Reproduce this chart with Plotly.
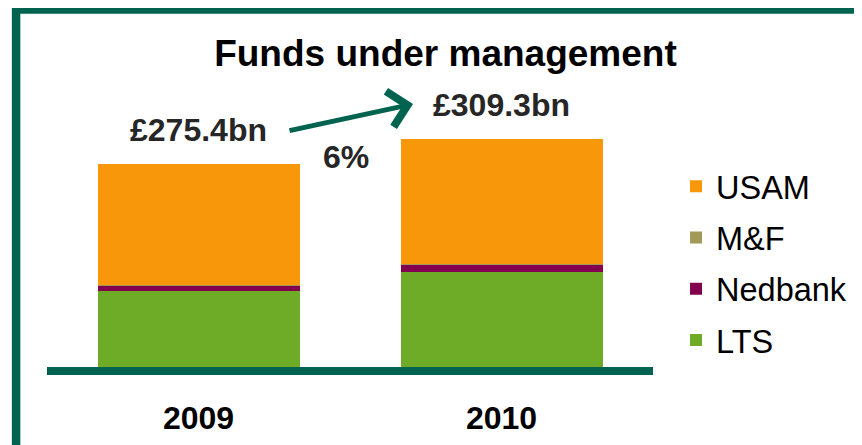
import plotly.graph_objects as go

years = ["2009", "2010"]
lts = [103.0, 129.5]
nedbank = [8.0, 10.0]
mf = [0.4, 0.5]
usam = [164.0, 169.3]
totals = [275.4, 309.3]
total_labels = ["£275.4bn", "£309.3bn"]
growth_label = "6%"

dark_green = "#00634f"
font_family = "Liberation Sans, Arial, sans-serif"

fig = go.Figure()
series = [
    ("LTS", lts, "#6eab26", 4),
    ("Nedbank", nedbank, "#82004e", 3),
    ("M&F", mf, "#a39a5a", 2),
    ("USAM", usam, "#f9970a", 1),
]
for name, vals, color, rank in series:
    fig.add_trace(
        go.Bar(
            x=years,
            y=vals,
            name=name,
            marker_color=color,
            marker_line_width=0,
            legendgroup=name,
            legendrank=rank,
        )
    )

annotations = []
for i, (tot, lab) in enumerate(zip(totals, total_labels)):
    annotations.append(
        dict(
            x=i, y=tot, text="<b>%s</b>" % lab, showarrow=False,
            yanchor="middle", yshift=34,
            font=dict(size=32, color="#262626", family=font_family),
        )
    )
annotations.append(
    dict(
        x=0.5, y=285, text="<b>%s</b>" % growth_label, showarrow=False,
        xshift=-4, font=dict(size=32, color="#262626", family=font_family),
    )
)
# growth arrow
annotations.append(
    dict(
        x=0.708, y=356.8, text="", showarrow=True,
        ax=-125, ay=27, axref="pixel", ayref="pixel",
        arrowhead=4, arrowsize=1.4, arrowwidth=5, arrowcolor=dark_green,
    )
)

shapes = [
    # frame
    dict(
        type="path", xref="paper", yref="paper",
        path="M -0.051,-0.5 L -0.051,1.1645 L 1.6,1.1645",
        line=dict(color=dark_green, width=8.5),
    ),
]

fig.update_layout(
    width=862,
    height=445,
    margin=dict(l=39, r=217, t=52, b=86, autoexpand=False),
    paper_bgcolor="white",
    plot_bgcolor="white",
    barmode="stack",
    bargap=1 / 3,
    font=dict(family=font_family, color="black"),
    title=dict(
        text="<b>Funds under management</b>",
        x=0.5075, xanchor="center", xref="container",
        y=0.899, yanchor="middle", yref="container",
        font=dict(size=37, color="black", family=font_family),
    ),
    xaxis=dict(
        type="category", range=[-0.5, 1.5],
        showline=True, linewidth=7.5, linecolor=dark_green,
        showgrid=False, ticks="", tickfont=dict(size=32, color="black"),
        tickprefix="<b>", ticksuffix="</b>", ticklabelstandoff=16,
        automargin=False,
    ),
    yaxis=dict(
        range=[0, 416.5], showgrid=False, showticklabels=False,
        zeroline=False, showline=False, automargin=False,
    ),
    legend=dict(
        x=1.038, xanchor="left", y=0.3385, yanchor="middle",
        traceorder="grouped", tracegroupgap=6,
        font=dict(size=32.5, color="black"),
        itemclick=False,
    ),
    annotations=annotations,
    shapes=shapes,
)

fig.write_html("out.html")
